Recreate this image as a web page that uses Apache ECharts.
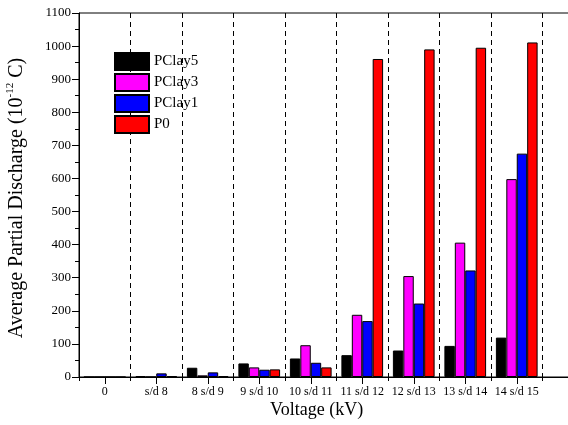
<!DOCTYPE html>
<html>
<head>
<meta charset="utf-8">
<script src="https://cdn.jsdelivr.net/npm/echarts@6/dist/echarts.min.js"></script>
<style>html,body{margin:0;padding:0;background:#fff;}#c{width:568px;height:425px;}</style>
</head>
<body>
<div id="c"></div>
<script>
var categories = ['0', 's/d 8', '8 s/d 9', '9 s/d 10', '10 s/d 11', '11 s/d 12', '12 s/d 13', '13 s/d 14', '14 s/d 15', ''];
var pclay5 = [0, 3, 28, 41, 56, 66, 80, 94, 119, null];
var pclay3 = [0, 0, 5, 29, 96, 188, 305, 406, 598, null];
var pclay1 = [0, 11, 14, 22, 43, 169, 222, 322, 675, null];
var p0     = [0, 3, 3, 23, 29, 961, 990, 995, 1011, null];
var seriesNames = ['PClay5', 'PClay3', 'PClay1', 'P0'];
var seriesColors = ['#000000', '#ff00ff', '#0000ff', '#ff0000'];
var seriesData = [pclay5, pclay3, pclay1, p0];

var font = 'Liberation Serif';
var chart = echarts.init(document.getElementById('c'), null, {renderer: 'canvas'});
var series = seriesNames.map(function (n, i) {
  return {
    name: n, type: 'bar', data: seriesData[i],
    barGap: '0%', barCategoryGap: '19%',
    itemStyle: {color: seriesColors[i], borderColor: '#000', borderWidth: 1}
  };
});
chart.setOption({
  animation: false,
  backgroundColor: '#fff',
  grid: {left: 79, top: 13, width: 515, height: 364, show: true, borderColor: '#000', borderWidth: 1,
    outerBoundsMode: 'none', containLabel: false},
  legend: {
    orient: 'vertical', left: 114, top: 52, padding: 0, itemWidth: 34, itemHeight: 17, itemGap: 2,
    icon: 'rect',
    textStyle: {fontFamily: font, fontSize: 15, color: '#000'},
    data: seriesNames
  },
  xAxis: [{
    type: 'category', data: categories, position: 'bottom',
    axisLine: {lineStyle: {color: '#000', width: 1}},
    axisTick: {show: true, length: 4, lineStyle: {color: '#000'}},
    axisLabel: {fontFamily: font, fontSize: 12, color: '#000', margin: 9, interval: 0},
    splitLine: {show: true, lineStyle: {color: '#000', type: [5, 4], width: 1}}
  }, {
    type: 'category', data: categories, position: 'bottom', gridIndex: 0,
    axisLine: {show: false},
    axisTick: {show: true, alignWithLabel: true, length: 7, lineStyle: {color: '#000'},
      interval: function (idx, val) { return val !== ''; }},
    axisLabel: {show: false},
    splitLine: {show: false}
  }],
  yAxis: {
    type: 'value', min: 0, max: 1100, interval: 100,
    name: '{b|Average Partial Discharge (10}{s|-12}{b| C)}',
    nameLocation: 'middle', nameGap: 52,
    nameTextStyle: {
      fontFamily: font, color: '#000', padding: [0, 6, 0, 0],
      rich: {
        b: {fontFamily: font, fontSize: 20, color: '#000', lineHeight: 22, verticalAlign: 'bottom'},
        s: {fontFamily: font, fontSize: 11, color: '#000', lineHeight: 22, verticalAlign: 'top'}
      }
    },
    axisLine: {show: true, lineStyle: {color: '#000', width: 1}},
    axisTick: {show: true, length: 7, lineStyle: {color: '#000'}},
    minorTick: {show: true, splitNumber: 2, length: 4, lineStyle: {color: '#000'}},
    axisLabel: {fontFamily: font, fontSize: 13, color: '#000', margin: 8,
      formatter: function (v) { return String(v); }},
    splitLine: {show: false}
  },
  graphic: [{
    type: 'text', left: 270, top: 401,
    style: {text: 'Voltage (kV)', font: '18px "Liberation Serif"', fill: '#000'}
  }],
  series: series
});
</script>
</body>
</html>
